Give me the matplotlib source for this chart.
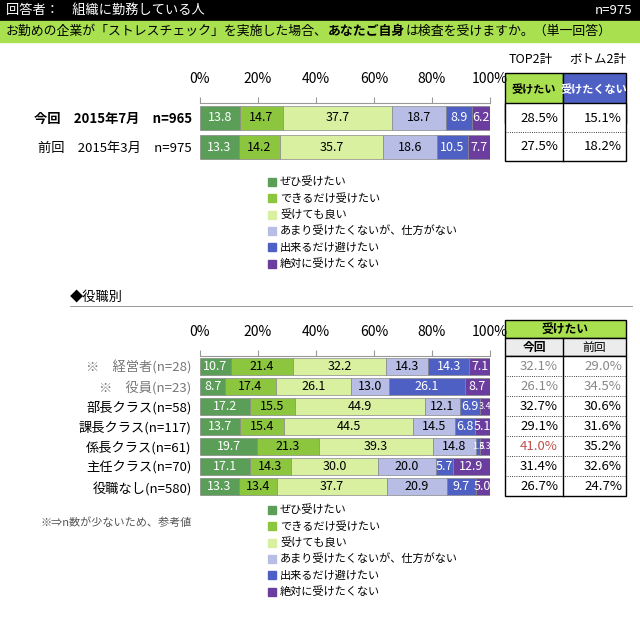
import matplotlib
matplotlib.use("Agg")
import matplotlib.pyplot as plt
from matplotlib.patches import Rectangle

plt.rcParams["font.family"] = "Noto Sans CJK JP"

W, H = 640, 618

# data
answers = ["ぜひ受けたい", "できるだけ受けたい", "受けても良い",
           "あまり受けたくないが、仕方がない", "出来るだけ避けたい", "絶対に受けたくない"]
colors = ["#5b9e58", "#8cc63e", "#d8f0a0", "#b8bde6", "#4f60c4", "#6b3d9e"]
txtcol = ["white", "black", "black", "black", "white", "white"]

top_labels = ["今回　2015年7月　n=965", "前回　2015年3月　n=975"]
top_vals = [[13.8, 14.7, 37.7, 18.7, 8.9, 6.2],
            [13.3, 14.2, 35.7, 18.6, 10.5, 7.7]]
top2 = ["28.5%", "27.5%"]
bottom2 = ["15.1%", "18.2%"]

role_labels = ["※　経営者(n=28)", "※　役員(n=23)", "部長クラス(n=58)", "課長クラス(n=117)",
               "係長クラス(n=61)", "主任クラス(n=70)", "役職なし(n=580)"]
role_vals = [[10.7, 21.4, 32.2, 14.3, 14.3, 7.1],
             [8.7, 17.4, 26.1, 13.0, 26.1, 8.7],
             [17.2, 15.5, 44.9, 12.1, 6.9, 3.4],
             [13.7, 15.4, 44.5, 14.5, 6.8, 5.1],
             [19.7, 21.3, 39.3, 14.8, 1.6, 3.3],
             [17.1, 14.3, 30.0, 20.0, 5.7, 12.9],
             [13.3, 13.4, 37.7, 20.9, 9.7, 5.0]]
role_now = ["32.1%", "26.1%", "32.7%", "29.1%", "41.0%", "31.4%", "26.7%"]
role_prev = ["29.0%", "34.5%", "30.6%", "31.6%", "35.2%", "32.6%", "24.7%"]

fig = plt.figure(figsize=(W / 100, H / 100), dpi=100)
ov = fig.add_axes([0, 0, 1, 1])
ov.set_xlim(0, W)
ov.set_ylim(H, 0)
ov.axis("off")

# header
ov.add_patch(Rectangle((0, 0), W, 20, color="black"))
ov.text(6, 10, "回答者：　組織に勤務している人", color="white", fontsize=9.5, va="center")
ov.text(632, 10, "n=975", color="white", fontsize=9.5, va="center", ha="right")
ov.add_patch(Rectangle((0, 21), W, 21, color="#a8e050"))
t1 = ov.text(6, 31, "お勤めの企業が「ストレスチェック」を実施した場合、", fontsize=9.3, va="center")
t2 = ov.annotate("あなたご自身", xy=(1, 0.5), xycoords=t1, fontsize=9.3, va="center",
                 fontweight="bold")
ov.annotate("は検査を受けますか。（単一回答）", xy=(1, 0.5), xycoords=t2, fontsize=9.3, va="center")


def bar_axes(y0, y1, labels, vals, weights, gray, bh):
    ax = fig.add_axes([200 / W, 1 - y1 / H, 290 / W, (y1 - y0) / H])
    n = len(labels)
    for i, row in enumerate(vals):
        left = 0
        for j, v in enumerate(row):
            ax.barh(i, v, left=left, height=bh, color=colors[j], edgecolor="#888888", lw=0.5)
            fs = 9 if v >= 5 else 6.5
            ax.text(left + v / 2, i, f"{v:.1f}", ha="center", va="center",
                    fontsize=fs, color=txtcol[j])
            left += v
    ax.set_xlim(0, 100)
    ax.set_ylim(n - 0.5, -0.5)
    ax.xaxis.tick_top()
    ax.set_xticks(range(0, 101, 20))
    ax.set_xticklabels([f"{t}%" for t in range(0, 101, 20)], fontsize=10)
    ax.tick_params(axis="x", length=4, color="#999999", pad=8)
    ax.set_yticks(range(n))
    ax.set_yticklabels(labels, fontsize=9.5)
    for t, w, g in zip(ax.get_yticklabels(), weights, gray):
        t.set_fontweight(w)
        if g:
            t.set_color("#777777")
    ax.tick_params(axis="y", length=0, pad=6)
    for s in ["right", "bottom", "left"]:
        ax.spines[s].set_visible(False)
    ax.spines["top"].set_color("#999999")
    return ax


bar_axes(103, 162, top_labels, top_vals, ["bold", "normal"], [False, False], 0.8)
bar_axes(356, 497, role_labels, role_vals, ["normal"] * 7, [True, True] + [False] * 5, 0.85)


def legend(y0):
    for j, a in enumerate(answers):
        y = y0 + j * 16.3
        ov.add_patch(Rectangle((268, y - 4), 8, 8, color=colors[j]))
        ov.text(280, y, a, fontsize=8, va="center")


legend(182)
legend(510)

# top table
ov.text(531, 60, "TOP2計", fontsize=9, ha="center", va="center")
ov.text(598, 60, "ボトム2計", fontsize=9, ha="center", va="center")
ov.add_patch(Rectangle((505, 73), 58, 50, facecolor="#a8e050", edgecolor="black", lw=1))
ov.add_patch(Rectangle((563, 73), 63, 50, facecolor="#4f60c4", edgecolor="black", lw=1))
ov.text(534, 89, "受けたい", fontsize=8, ha="center", va="center", fontweight="bold")
ov.text(594, 89, "受けたくない", fontsize=8, ha="center", va="center", color="white", fontweight="bold")
ov.add_patch(Rectangle((505, 103), 121, 58, facecolor="white", edgecolor="black", lw=1))
ov.plot([563, 563], [103, 161], color="black", lw=1)
ov.plot([505, 626], [132, 132], color="black", lw=0.6, ls=":")
for i in range(2):
    y = 118 + i * 29
    ov.text(558, y, top2[i], fontsize=9.5, ha="right", va="center")
    ov.text(622, y, bottom2[i], fontsize=9.5, ha="right", va="center")

# role table
ov.add_patch(Rectangle((505, 320), 121, 18, facecolor="#a8e050", edgecolor="black", lw=1))
ov.text(565, 329, "受けたい", fontsize=8.5, ha="center", va="center", fontweight="bold")
ov.add_patch(Rectangle((505, 338), 121, 18, facecolor="#ececec", edgecolor="black", lw=1))
ov.text(534, 347, "今回", fontsize=8.5, ha="center", va="center", fontweight="bold")
ov.text(594, 347, "前回", fontsize=8.5, ha="center", va="center")
ov.add_patch(Rectangle((505, 356), 121, 140, facecolor="white", edgecolor="black", lw=1))
ov.plot([563, 563], [338, 496], color="black", lw=1)
for i in range(7):
    y = 366 + i * 20
    if i > 0:
        ov.plot([505, 626], [y - 10, y - 10], color="black", lw=0.6, ls=":")
    c = "#888888" if i < 2 else "black"
    c1 = "#c0504d" if i == 4 else c
    ov.text(558, y, role_now[i], fontsize=9.5, ha="right", va="center", color=c1)
    ov.text(622, y, role_prev[i], fontsize=9.5, ha="right", va="center", color=c)

ov.text(70, 297, "◆役職別", fontsize=9.5, va="center")
ov.plot([70, 632], [306, 306], color="#888888", lw=0.6)
ov.text(40, 523, "※⇒n数が少ないため、参考値", fontsize=8, va="center", color="#555555")

fig.savefig("out.png", dpi=100)
